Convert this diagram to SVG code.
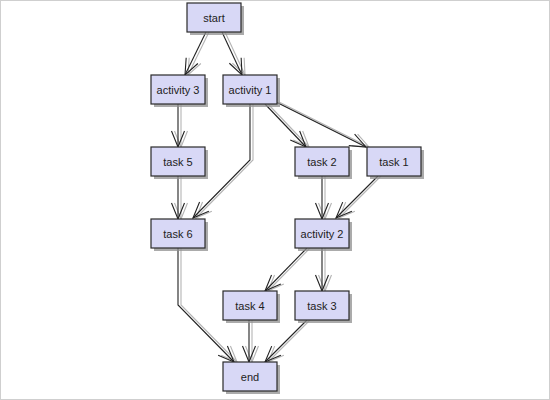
<svg xmlns="http://www.w3.org/2000/svg" width="550" height="400" viewBox="0 0 550 400">
<style>
.frame{fill:#fff;stroke:#cfcfcf;stroke-width:1}
.box{fill:#d8d8f6;stroke:#2a2a2a;stroke-width:1.2}
.shadow{fill:#8f8f8f;opacity:0.75}
.lbl{font-family:"Liberation Sans",Arial,sans-serif;font-size:11px;fill:#222;text-anchor:middle;dominant-baseline:central}
.edge{fill:none;stroke:#222;stroke-width:1.1;marker-end:url(#arr)}
.edge-sh{fill:none;stroke:#b4b4b4;stroke-width:1.1;marker-end:url(#arrsh)}
</style>
<defs>
<marker id="arr" markerUnits="userSpaceOnUse" viewBox="-1 -8 18 16" refX="16" refY="0" markerWidth="18" markerHeight="16" orient="auto" overflow="visible">
<path d="M0,-6.5 L16,0 L0,6.5" fill="none" stroke="#222" stroke-width="1.1"/>
</marker>
<marker id="arrsh" markerUnits="userSpaceOnUse" viewBox="-1 -8 18 16" refX="16" refY="0" markerWidth="18" markerHeight="16" orient="auto" overflow="visible">
<path d="M0,-6.5 L16,0 L0,6.5" fill="none" stroke="#b4b4b4" stroke-width="1.1"/>
</marker>
</defs>
<rect class="frame" x="0.5" y="0.5" width="549" height="399"/>
<g id="connectors">
<g transform="translate(3,0)">
<path class="edge-sh" d="M206,32 L185,75"/>
<path class="edge-sh" d="M222,32 L242,75"/>
<path class="edge-sh" d="M178,104 L178,147"/>
<path class="edge-sh" d="M250,104 L250,160 L193,218"/>
<path class="edge-sh" d="M265,104 L306,147"/>
<path class="edge-sh" d="M276,102 L366,147"/>
<path class="edge-sh" d="M178,176 L178,219"/>
<path class="edge-sh" d="M322,176 L322,219"/>
<path class="edge-sh" d="M378,176 L336,218"/>
<path class="edge-sh" d="M307,248 L265,291"/>
<path class="edge-sh" d="M322,248 L322,291"/>
<path class="edge-sh" d="M178,248 L178,305 L234,362"/>
<path class="edge-sh" d="M249,320 L249,362"/>
<path class="edge-sh" d="M307,320 L265,362"/>
</g>
<path class="edge" d="M206,32 L185,75"/>
<path class="edge" d="M222,32 L242,75"/>
<path class="edge" d="M178,104 L178,147"/>
<path class="edge" d="M250,104 L250,160 L193,218"/>
<path class="edge" d="M265,104 L306,147"/>
<path class="edge" d="M276,102 L366,147"/>
<path class="edge" d="M178,176 L178,219"/>
<path class="edge" d="M322,176 L322,219"/>
<path class="edge" d="M378,176 L336,218"/>
<path class="edge" d="M307,248 L265,291"/>
<path class="edge" d="M322,248 L322,291"/>
<path class="edge" d="M178,248 L178,305 L234,362"/>
<path class="edge" d="M249,320 L249,362"/>
<path class="edge" d="M307,320 L265,362"/>
</g>
<g id="start"><rect class="shadow" x="190" y="6" width="54" height="29"/><rect class="box" x="187" y="3" width="54" height="29"/><text class="lbl" x="214" y="17.5">start</text></g>
<g id="activity3"><rect class="shadow" x="154" y="78" width="54" height="29"/><rect class="box" x="151" y="75" width="54" height="29"/><text class="lbl" x="178" y="89.5">activity 3</text></g>
<g id="activity1"><rect class="shadow" x="226" y="78" width="54" height="29"/><rect class="box" x="223" y="75" width="54" height="29"/><text class="lbl" x="250" y="89.5">activity 1</text></g>
<g id="task5"><rect class="shadow" x="154" y="150" width="54" height="29"/><rect class="box" x="151" y="147" width="54" height="29"/><text class="lbl" x="178" y="161.5">task 5</text></g>
<g id="task2"><rect class="shadow" x="298" y="150" width="54" height="29"/><rect class="box" x="295" y="147" width="54" height="29"/><text class="lbl" x="322" y="161.5">task 2</text></g>
<g id="task1"><rect class="shadow" x="370" y="150" width="54" height="29"/><rect class="box" x="367" y="147" width="54" height="29"/><text class="lbl" x="394" y="161.5">task 1</text></g>
<g id="task6"><rect class="shadow" x="154" y="222" width="54" height="29"/><rect class="box" x="151" y="219" width="54" height="29"/><text class="lbl" x="178" y="233.5">task 6</text></g>
<g id="activity2"><rect class="shadow" x="298" y="222" width="54" height="29"/><rect class="box" x="295" y="219" width="54" height="29"/><text class="lbl" x="322" y="233.5">activity 2</text></g>
<g id="task4"><rect class="shadow" x="226" y="294" width="54" height="29"/><rect class="box" x="223" y="291" width="54" height="29"/><text class="lbl" x="250" y="305.5">task 4</text></g>
<g id="task3"><rect class="shadow" x="298" y="294" width="54" height="29"/><rect class="box" x="295" y="291" width="54" height="29"/><text class="lbl" x="322" y="305.5">task 3</text></g>
<g id="end"><rect class="shadow" x="226" y="365" width="54" height="29"/><rect class="box" x="223" y="362" width="54" height="29"/><text class="lbl" x="250" y="376.5">end</text></g>
</svg>
